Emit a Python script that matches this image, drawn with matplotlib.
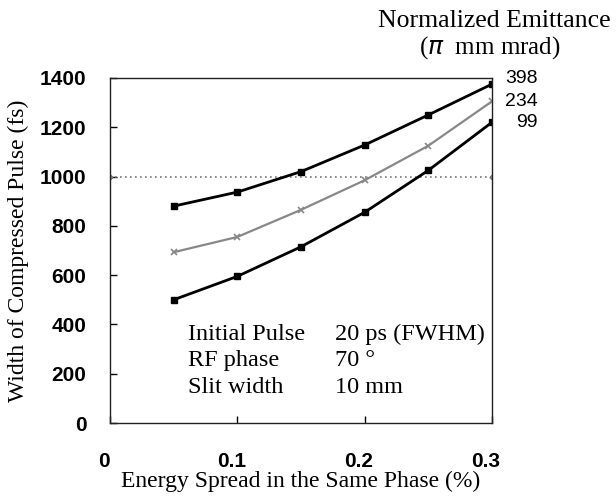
import matplotlib
matplotlib.use("Agg")
import matplotlib.pyplot as plt
import matplotlib.transforms as mtrans

# data
spread = [0.05, 0.10, 0.15, 0.20, 0.25, 0.30]
width_398 = [880, 937, 1020, 1128, 1250, 1375]
width_234 = [693, 755, 865, 985, 1125, 1305]
width_99 = [500, 595, 715, 855, 1025, 1220]
emittance_labels = ["398", "234", "99"]
label_y = [1398, 1305, 1218]
ref_x = [0.0, 0.3]
ref_y = [1000, 1000]
yticks = [0, 200, 400, 600, 800, 1000, 1200, 1400]
xticks = [0, 0.1, 0.2, 0.3]
xticklabels = ["0", "0.1", "0.2", "0.3"]

serif = ["Liberation Serif", "DejaVu Serif"]
sans = ["Liberation Sans", "DejaVu Sans"]

fig = plt.figure(figsize=(6.16, 4.98), dpi=100)
ax = fig.add_axes([0.1786, 0.1506, 0.620, 0.6928])

ax.plot(ref_x, ref_y, color="#777777", lw=1.2, ls=(0, (1, 2)),
        marker="D", ms=2.5, markevery=0.034, mfc="#999999", mec="#777777")
ax.plot(spread, width_398, "k-", lw=2, marker="s", ms=4)
ax.plot(spread, width_234, "-", color="#888888", lw=1.6, marker="x", ms=4,
        mew=1.2)
ax.plot(spread, width_99, "k-", lw=2, marker="s", ms=4)

ax.set_xlim(0, 0.3)
ax.set_ylim(0, 1400)
ax.set_xticks(xticks)
ax.set_xticklabels(xticklabels, family=sans, fontsize=15, weight="bold")
ax.set_yticks(yticks)
ax.set_yticklabels([str(v) for v in yticks], family=sans, fontsize=15,
                   weight="bold")
ax.tick_params(direction="in", length=5, width=1)
ax.tick_params(axis="x", pad=21)
ax.tick_params(axis="y", pad=17)
# x tick labels sit a little left of their ticks in the reference
shift = mtrans.ScaledTranslation(-0.06, 0, fig.dpi_scale_trans)
for t in ax.get_xticklabels():
    t.set_transform(t.get_transform() + shift)
for s in ax.spines.values():
    s.set_linewidth(1)
    s.set_color("#222222")

ax.set_xlabel("Energy Spread in the Same Phase (%)", family=serif,
              fontsize=17, labelpad=0)
ax.set_ylabel("Width of Compressed Pulse (fs)", family=serif, fontsize=17,
              labelpad=8)

# emittance labels at the right of the curves
for lab, yv in zip(emittance_labels, label_y):
    ax.annotate(lab, (0.3, yv), xytext=(33, 0), textcoords="offset points",
                ha="right", va="center", family=sans, fontsize=14,
                annotation_clip=False)

fig.text(0.803, 0.958, "Normalized Emittance", family=serif, fontsize=18.5,
         ha="center", va="center")
fig.text(0.795, 0.905, "($\\pi$  mm mrad)", family=serif, fontsize=18,
         ha="center", va="center")

rows = [("Initial Pulse", "20 ps (FWHM)"), ("RF phase", "70 \u00b0"),
        ("Slit width", "10 mm")]
row_y = [337, 231, 122]
for (k, v), y in zip(rows, row_y):
    ax.text(0.061, y, k, family=serif, fontsize=17.5, va="baseline")
    ax.text(0.1766, y, v, family=serif, fontsize=17.5, va="baseline")

fig.savefig("out.png", dpi=100)
